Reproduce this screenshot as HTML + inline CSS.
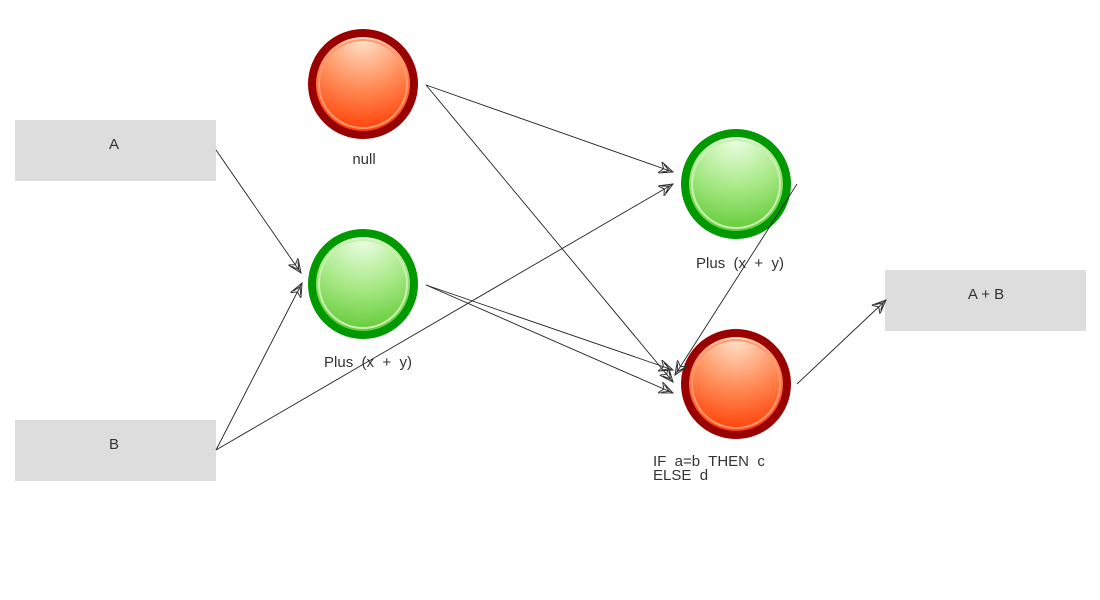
<!DOCTYPE html>
<html><head><style>body{margin:0;background:#fff}svg{display:block}</style></head>
<body>
<svg width="1100" height="600" xmlns="http://www.w3.org/2000/svg" font-family="Liberation Sans, sans-serif">
<defs>
<radialGradient id="r" cx="0.5" cy="0.05" r="1"><stop offset="0" stop-color="#ffe4cc"/><stop offset="0.5" stop-color="#ff8a55"/><stop offset="0.95" stop-color="#ff3a00"/></radialGradient>
<radialGradient id="g" cx="0.5" cy="0.05" r="1"><stop offset="0" stop-color="#eeffe6"/><stop offset="0.5" stop-color="#a6e884"/><stop offset="0.95" stop-color="#5ec832"/></radialGradient>
<marker id="a" markerWidth="16" markerHeight="12" refX="14" refY="6" orient="auto" markerUnits="userSpaceOnUse">
<path d="M0,0 L14,6 L0,12 L4,6 Z M3,2 L10,6 L3,10" fill="none" stroke="#333" stroke-width="1"/></marker>
</defs>
<rect x="15" y="120" width="201" height="61" fill="#dddddd"/>
<rect x="15" y="420" width="201" height="61" fill="#dddddd"/>
<rect x="885" y="270" width="201" height="61" fill="#dddddd"/>
<g font-size="15" fill="#333" text-anchor="middle">
<text x="114" y="149">A</text><text x="114" y="449">B</text><text x="986" y="299">A + B</text>
<text x="364" y="164">null</text>
<text x="368" y="367" xml:space="preserve">Plus  (x  +  y)</text>
<text x="740" y="268" xml:space="preserve">Plus  (x  +  y)</text>
<text x="653" y="466" text-anchor="start" xml:space="preserve">IF  a=b  THEN  c</text>
<text x="653" y="480" text-anchor="start" xml:space="preserve">ELSE  d</text>
</g>
<g>
<circle cx="363" cy="84" r="51" fill="url(#r)" stroke="#990000" stroke-width="8"/>
<circle cx="363" cy="84" r="44" fill="none" stroke="#ff9a70" stroke-width="2"/>
<circle cx="363" cy="284" r="51" fill="url(#g)" stroke="#009900" stroke-width="8"/>
<circle cx="363" cy="284" r="44" fill="none" stroke="#c8f0b0" stroke-width="2"/>
<circle cx="736" cy="184" r="51" fill="url(#g)" stroke="#009900" stroke-width="8"/>
<circle cx="736" cy="184" r="44" fill="none" stroke="#c8f0b0" stroke-width="2"/>
<circle cx="736" cy="384" r="51" fill="url(#r)" stroke="#990000" stroke-width="8"/>
<circle cx="736" cy="384" r="44" fill="none" stroke="#ff9a70" stroke-width="2"/>
</g>
<g stroke="#222" stroke-width="0.9" fill="none" marker-end="url(#a)">
<line x1="216" y1="150" x2="301" y2="273"/>
<line x1="216" y1="450" x2="302" y2="283"/>
<line x1="216" y1="450" x2="673" y2="184"/>
<line x1="426" y1="85" x2="673" y2="172"/>
<line x1="426" y1="85" x2="673" y2="382"/>
<line x1="426" y1="285" x2="673" y2="370"/>
<line x1="426" y1="285" x2="673" y2="393"/>
<line x1="797" y1="184" x2="675" y2="375"/>
<line x1="797" y1="384" x2="886" y2="300"/>
</g>
</svg>
</body></html>
